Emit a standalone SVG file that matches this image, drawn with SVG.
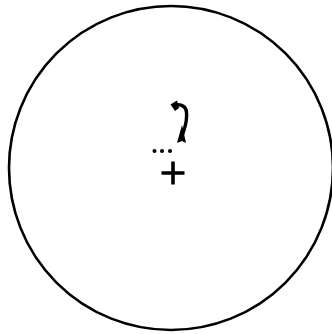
<svg xmlns="http://www.w3.org/2000/svg" width="332" height="334" viewBox="0 0 332 334">
<style>.ink{fill:none;stroke:#000;stroke-width:2.6}.fill{fill:#000;stroke:none}</style>
<rect width="332" height="334" fill="#fff"/>
<circle class="ink" cx="171" cy="168" r="162"/>
<g id="symbol">
<path d="M176 105 C182 104 186 107 186.5 112 C187 118 186 124 184 130 L181.5 138" fill="none" stroke="#000" stroke-width="3.4" stroke-linecap="round"/>
<polygon class="fill" points="170.5,104.5 177,100.5 179,108 175,111"/>
<polygon class="fill" points="182,125 177,143 182,141 186,143"/>
<circle class="fill" cx="154.5" cy="151" r="2"/>
<circle class="fill" cx="162" cy="151" r="2"/>
<circle class="fill" cx="170" cy="151" r="2"/>
<path d="M161.5 173 H184.5 M173 161.5 V184.5" stroke="#000" stroke-width="3.6" fill="none"/>
</g>
</svg>
